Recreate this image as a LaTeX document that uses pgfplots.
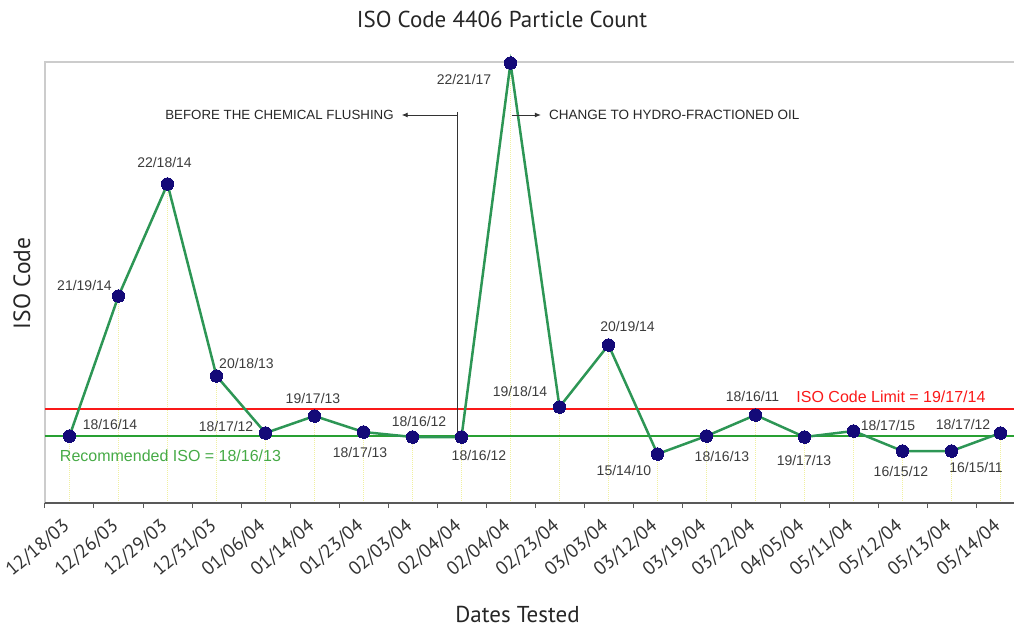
\documentclass[border=0pt]{standalone}
\usepackage{pgfplots}
\pgfplotsset{compat=1.18}
\usepackage{pgfplotstable}
\usepackage{fontspec}
\setmainfont{Liberation Sans}
\newfontfamily\ptsans{PT Sans}
\usetikzlibrary{calc,arrows.meta}
\definecolor{linegreen}{RGB}{45,150,85}
\definecolor{navy}{RGB}{20,10,120}
\definecolor{limred}{RGB}{250,25,25}
\definecolor{recgreen}{RGB}{40,160,50}
\definecolor{rectext}{RGB}{70,170,70}
\definecolor{droplines}{RGB}{240,240,160}
\definecolor{lbl}{RGB}{60,60,60}
\pgfplotstableread{
x y
0 67
1 207
2 319
3 127
4 70
5 87
6 71
7 66
8 66
9 440
10 96
11 158
12 49
13 67
14 88
15 66
16 72
17 52
18 52
19 70
}\datatable
\tikzset{lab/.style={font=\fontsize{14}{14}\selectfont, text=lbl, inner sep=0pt}}
\begin{document}
\begin{tikzpicture}
\begin{axis}[
  name=ax,
  scale only axis,
  width=980pt, height=441pt,
  xmin=-0.5, xmax=19.5, ymin=0, ymax=441,
  clip=false,
  axis line style={draw=none},
  xtick={0,...,19},
  xtick pos=bottom,
  xticklabels={12/18/03,12/26/03,12/29/03,12/31/03,01/06/04,01/14/04,01/23/04,02/03/04,02/04/04,02/04/04,02/23/04,03/03/04,03/12/04,03/19/04,03/22/04,04/05/04,05/11/04,05/12/04,05/13/04,05/14/04},
  major tick length=0pt,
  minor xtick={-0.5,0.5,...,19.5},
  minor tick length=5pt,
  tick align=outside,
  minor tick style={black!65, line width=1pt},
  ytick=\empty,
  xticklabel style={xshift=-2.5pt, yshift=-21pt, rotate=40, anchor=east, inner sep=0pt, font=\ptsans\fontsize{19}{19}\selectfont, text=black!80},
]
\draw[black!20, line width=2pt] (rel axis cs:0,0) -- (rel axis cs:0,1) -- (rel axis cs:1.02,1);
\addplot[ycomb, densely dotted, droplines, line width=1pt, mark=none] table {\datatable};
\draw[black!65, line width=1.5pt] (rel axis cs:0,0) -- (rel axis cs:1.02,0);
\addplot[limred, line width=1.2pt, mark=none] coordinates {(-0.5,94) (19.5,94)};
\addplot[recgreen, line width=1.2pt, mark=none] coordinates {(-0.5,67) (19.5,67)};
\addplot[linegreen, line width=2.5pt, mark=*, mark size=6.3pt, mark options={fill=navy, draw=navy, line width=0pt}] table {\datatable};
\node[lab] at (axis cs:0.827,79) {18/16/14};
\node[lab] at (axis cs:0.306,218) {21/19/14};
\node[lab] at (axis cs:1.939,341) {22/18/14};
\node[lab] at (axis cs:3.612,140) {20/18/13};
\node[lab] at (axis cs:3.194,77) {18/17/12};
\node[lab] at (axis cs:4.969,105) {19/17/13};
\node[lab] at (axis cs:5.929,51) {18/17/13};
\node[lab] at (axis cs:7.133,82) {18/16/12};
\node[lab] at (axis cs:8.357,48) {18/16/12};
\node[lab] at (axis cs:8.051,424) {22/21/17};
\node[lab] at (axis cs:9.194,112) {19/18/14};
\node[lab] at (axis cs:11.388,177) {20/19/14};
\node[lab] at (axis cs:11.316,33) {15/14/10};
\node[lab] at (axis cs:13.316,47) {18/16/13};
\node[lab] at (axis cs:13.939,107) {18/16/11};
\node[lab] at (axis cs:14.990,43) {19/17/13};
\node[lab] at (axis cs:16.704,78) {18/17/15};
\node[lab] at (axis cs:16.969,32) {16/15/12};
\node[lab] at (axis cs:18.235,79) {18/17/12};
\node[lab] at (axis cs:18.500,36) {16/15/11};
\node[font=\fontsize{16}{16}\selectfont, text=rectext, inner sep=0pt] at (axis cs:2.061,47) {Recommended ISO = 18/16/13};
\node[font=\fontsize{16}{16}\selectfont, text=limred, inner sep=0pt] at (axis cs:16.765,106) {ISO Code Limit = 19/17/14};
\draw[black!80, line width=0.9pt] (axis cs:7.908,391) -- (axis cs:7.908,66);
\draw[black!80, line width=0.9pt, -{Latex[length=6pt,width=5pt]}] (axis cs:7.908,388) -- (axis cs:6.78,388);
\draw[black!80, line width=0.9pt, -{Latex[length=6pt,width=5pt]}] (axis cs:9.030,388) -- (axis cs:9.62,388);
\node[font=\fontsize{13.3}{13.3}\selectfont, text=black!85, inner sep=0pt] at (axis cs:4.286,388) {BEFORE THE CHEMICAL FLUSHING};
\node[font=\fontsize{13.5}{13.5}\selectfont, text=black!85, inner sep=0pt, anchor=west] at (axis cs:9.786,388) {CHANGE TO HYDRO-FRACTIONED OIL};
\end{axis}
\node[anchor=base, font=\ptsans\fontsize{23}{23}\selectfont, text=black!85] at ($(ax.south west)+(457pt,475pt)$) {ISO Code 4406 Particle Count};
\node[rotate=90, font=\ptsans\fontsize{23.5}{23.5}\selectfont, text=black!85] at ($(ax.south west)+(-23pt,219.5pt)$) {ISO Code};
\node[anchor=base, font=\ptsans\fontsize{23}{23}\selectfont, text=black!85, inner sep=0pt] at ($(ax.south west)+(472.5pt,-119pt)$) {Dates Tested};
\pgfresetboundingbox
\useasboundingbox ($(ax.south west)+(-45pt,-124pt)$) rectangle ($(ax.south west)+(969pt,503pt)$);
\end{tikzpicture}
\end{document}
